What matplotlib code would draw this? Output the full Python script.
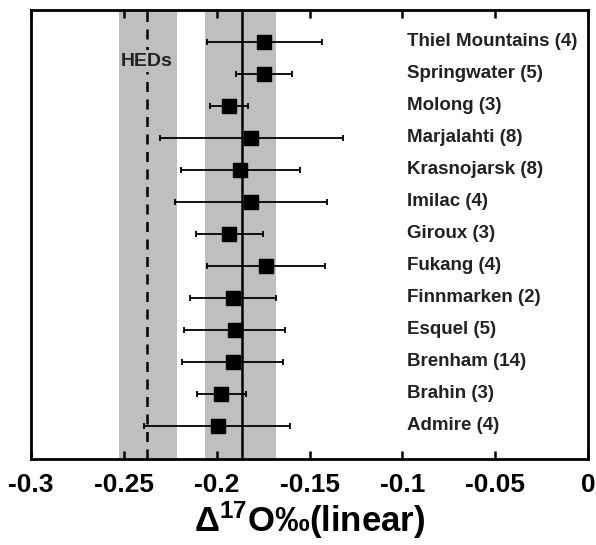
import matplotlib.pyplot as plt
import numpy as np

plt.rcParams["font.family"] = ["Liberation Sans", "DejaVu Sans"]
plt.rcParams["font.weight"] = "bold"
plt.rcParams["mathtext.fontset"] = "custom"
plt.rcParams["mathtext.rm"] = "Liberation Sans"
plt.rcParams["mathtext.it"] = "Liberation Sans"
plt.rcParams["mathtext.bf"] = "Liberation Sans:bold"

# listed top to bottom
names = ["Thiel Mountains (4)", "Springwater (5)", "Molong (3)", "Marjalahti (8)",
         "Krasnojarsk (8)", "Imilac (4)", "Giroux (3)", "Fukang (4)",
         "Finnmarken (2)", "Esquel (5)", "Brenham (14)", "Brahin (3)", "Admire (4)"]
d17o = [-0.1746, -0.1746, -0.1935, -0.1816, -0.1876, -0.1816, -0.1935,
        -0.1735, -0.1914, -0.1903, -0.1914, -0.1978, -0.1995]
err_lo = [-0.2054, -0.1897, -0.2038, -0.2303, -0.2195, -0.2227, -0.2114,
          -0.2054, -0.2146, -0.2178, -0.2189, -0.2108, -0.2389]
err_hi = [-0.1432, -0.1595, -0.1832, -0.1319, -0.1551, -0.1405, -0.1751,
          -0.1416, -0.1681, -0.1632, -0.1643, -0.1843, -0.1605]

hed_mean = -0.2378
hed_band = (-0.2524, -0.2216)
pall_mean = -0.1865
pall_band = (-0.2065, -0.1681)

fig = plt.figure(figsize=(5.96, 5.45), dpi=100)
ax = fig.add_axes([0.052, 0.158, 0.935, 0.824])

band_col = "#bfbfbf"
ax.axvspan(*hed_band, color=band_col, lw=0, zorder=0)
ax.axvspan(*pall_band, color=band_col, lw=0, zorder=0)
ax.axvline(hed_mean, color="black", ls=(0, (4, 3)), lw=1.8, zorder=1)
ax.axvline(pall_mean, color="black", lw=1.8, zorder=1)

n = len(names)
y = np.arange(n)[::-1]
x = np.array(d17o)
xerr = [x - np.array(err_lo), np.array(err_hi) - x]
ax.errorbar(x, y, xerr=xerr, fmt="s", color="black", ms=9.5, elinewidth=1.3,
            capsize=2.5, capthick=1.3, zorder=3)

for yi, name in zip(y, names):
    ax.text(-0.0978, yi, name, fontsize=13.5, fontweight="bold",
            va="center", ha="left", color="#222222")

ax.text(-0.2375, 11.4, "HEDs", fontsize=14, fontweight="bold", ha="center",
        va="center", color="#222222", zorder=2,
        bbox=dict(facecolor=band_col, edgecolor="none", pad=1.5))

ax.set_xlim(-0.3, 0)
ax.set_ylim(-1.03, 13.0)
ax.set_xticks([-0.3, -0.25, -0.2, -0.15, -0.1, -0.05, 0])
ax.set_xticklabels(["-0.3", "-0.25", "-0.2", "-0.15", "-0.1", "-0.05", "0"])
ax.set_yticks([])
ax.tick_params(axis="x", direction="in", top=True, length=6, width=1.8,
               labelsize=19, pad=10)
for lab in ax.get_xticklabels():
    lab.set_fontweight("bold")
for s in ax.spines.values():
    s.set_linewidth(2)

ax.set_xlabel(r"$\Delta^{\mathbf{17}}$O‰(linear)", fontsize=25, fontweight="bold",
              labelpad=2)

fig.savefig("out.png", dpi=100)
